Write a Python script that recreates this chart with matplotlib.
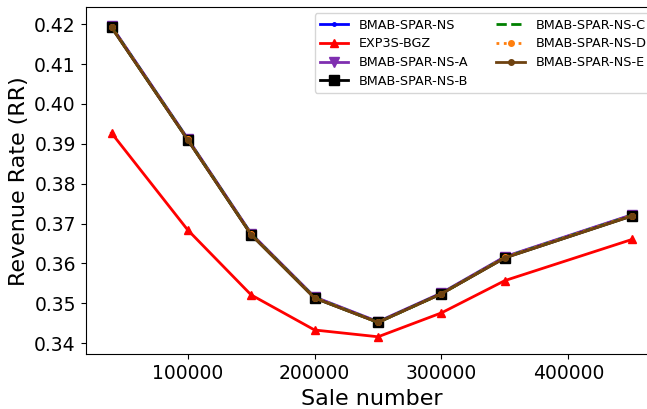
import matplotlib
matplotlib.use("Agg")
import matplotlib.pyplot as plt

sale_number = [40000, 100000, 150000, 200000, 250000, 300000, 350000, 450000]

rr_ns   = [0.4194, 0.3912, 0.3674, 0.3515, 0.3453, 0.3525, 0.3616, 0.3721]
rr_bgz  = [0.3927, 0.3684, 0.3521, 0.3433, 0.3416, 0.3476, 0.3557, 0.3660]
rr_ns_a = [0.4195, 0.3913, 0.3675, 0.3516, 0.3454, 0.3526, 0.3617, 0.3722]
rr_ns_b = [0.4192, 0.3910, 0.3672, 0.3513, 0.3452, 0.3524, 0.3614, 0.3719]
rr_ns_c = [0.4193, 0.3911, 0.3673, 0.3514, 0.3452, 0.3524, 0.3615, 0.3720]
rr_ns_d = [0.4193, 0.3911, 0.3673, 0.3514, 0.3452, 0.3524, 0.3615, 0.3720]
rr_ns_e = [0.4192, 0.3910, 0.3672, 0.3513, 0.3452, 0.3524, 0.3614, 0.3719]

series = [
    ("BMAB-SPAR-NS",   rr_ns,   dict(color="blue",    ls="-",  marker=".", ms=5)),
    ("EXP3S-BGZ",      rr_bgz,  dict(color="red",     ls="-",  marker="^", ms=5.5)),
    ("BMAB-SPAR-NS-A", rr_ns_a, dict(color="#7f2fb0", ls="-",  marker="v", ms=6.5)),
    ("BMAB-SPAR-NS-B", rr_ns_b, dict(color="black",   ls="-",  marker="s", ms=6.5)),
    ("BMAB-SPAR-NS-C", rr_ns_c, dict(color="green",   ls="--", marker=None)),
    ("BMAB-SPAR-NS-D", rr_ns_d, dict(color="#ff7f0e", ls=":",  marker="o", ms=4)),
    ("BMAB-SPAR-NS-E", rr_ns_e, dict(color="#6e4210", ls="-",  marker="o", ms=4)),
]

fig = plt.figure(figsize=(6.47, 4.09), dpi=100)
ax = fig.add_axes([0.1322, 0.1337, 0.8846, 0.8491])

for name, vals, style in series:
    ax.plot(sale_number, vals, lw=2, label=name, **style)

ax.set_xlim(19500, 470500)
ax.set_ylim(0.3372, 0.4243)
ax.set_xticks([100000, 200000, 300000, 400000])
ax.set_yticks([0.34, 0.35, 0.36, 0.37, 0.38, 0.39, 0.40, 0.41, 0.42])
ax.tick_params(labelsize=13.5)
ax.set_xlabel("Sale number", fontsize=16)
ax.set_ylabel("Revenue Rate (RR)", fontsize=16)

ax.legend(ncol=2, loc="upper right", fontsize=9.2, handlelength=2.25,
          columnspacing=2.2, labelspacing=0.45)

fig.savefig("out.png", dpi=100)
